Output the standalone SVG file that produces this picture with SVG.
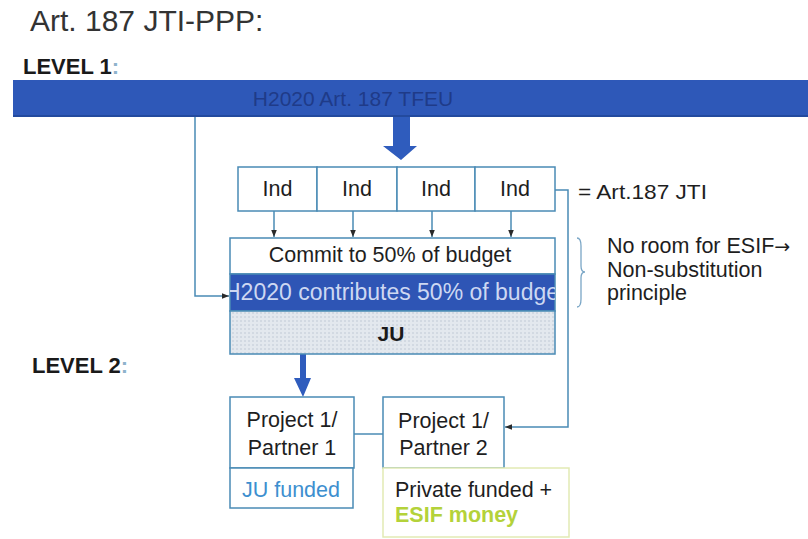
<svg xmlns="http://www.w3.org/2000/svg" width="808" height="539" viewBox="0 0 808 539">
<defs>
<style>
text{font-family:"Liberation Sans",Arial,sans-serif;}
.t{font-size:21.5px;fill:#1e1e1e;}
.lvl{font-size:22px;font-weight:bold;fill:#1a1a1a;}
.box{fill:#ffffff;stroke:#4a8bb5;stroke-width:1.5;}
.ln{fill:none;stroke:#4a8bb5;stroke-width:1.5;}
.big{fill:#2f5cbd;}
.c{text-anchor:middle;}
</style>
<pattern id="dots" width="4" height="4" patternUnits="userSpaceOnUse">
<rect width="4" height="4" fill="#e3e8ee"/>
<circle cx="1" cy="1" r="0.8" fill="#bcc7d4"/>
</pattern>
<marker id="ah" viewBox="0 0 10 10" refX="10" refY="5" markerWidth="7" markerHeight="7" markerUnits="userSpaceOnUse" orient="auto">
<path d="M0,1 L10,5 L0,9 Z" fill="#2a2a2a"/>
</marker>
<clipPath id="bandclip"><rect x="230" y="274" width="325" height="37"/></clipPath>
</defs>
<rect width="808" height="539" fill="#ffffff"/>

<g id="title"><text x="30" y="31" style="font-size:30px;fill:#333">Art. 187 JTI-PPP:</text></g>
<g id="level1"><text x="23" y="74" class="lvl">LEVEL 1<tspan fill="#8fb3cc">:</tspan></text></g>
<g id="level2"><text x="32" y="373" class="lvl">LEVEL 2<tspan fill="#8fb3cc">:</tspan></text></g>

<g id="h2020">
<rect x="13" y="80" width="800" height="37" fill="#2e58b8"/>
<rect x="13" y="115" width="800" height="2" fill="#234a9e"/>
<text x="353" y="106" class="c" style="font-size:21px;fill:#1f3b88">H2020 Art. 187 TFEU</text>
</g>

<g id="connectors">
<path class="ln" d="M195,117 V296 H229" marker-end="url(#ah)"/>
<path class="ln" d="M274,211 V237" marker-end="url(#ah)"/>
<path class="ln" d="M353,211 V237" marker-end="url(#ah)"/>
<path class="ln" d="M432,211 V237" marker-end="url(#ah)"/>
<path class="ln" d="M511,211 V237" marker-end="url(#ah)"/>
<path class="ln" d="M555,190 H568 V427 H505" marker-end="url(#ah)"/>
<path class="ln" d="M354,434 H383"/>
<path class="big" d="M393,117 H410 V146 H417 L401,160 L383,146 H393 Z"/>
<path class="big" d="M300,354 H306 V378 H311 L303,397 L294,378 H300 Z"/>
</g>

<g id="ind1"><rect class="box" x="238" y="167" width="79" height="44"/><text x="277.5" y="196" class="t c">Ind</text></g>
<g id="ind2"><rect class="box" x="317" y="167" width="80" height="44"/><text x="357" y="196" class="t c">Ind</text></g>
<g id="ind3"><rect class="box" x="397" y="167" width="78" height="44"/><text x="436" y="196" class="t c">Ind</text></g>
<g id="ind4"><rect class="box" x="475" y="167" width="80" height="44"/><text x="515" y="196" class="t c">Ind</text></g>

<g id="commit"><rect class="box" x="230" y="238" width="325" height="36"/><text x="390" y="262" class="t c">Commit to 50% of budget</text></g>
<g id="contrib">
<rect x="230" y="274" width="325" height="37" fill="#2e55b5" stroke="#4a8bb5" stroke-width="1.5"/>
<text x="224" y="300" clip-path="url(#bandclip)" style="font-size:23px;fill:#cdd8f2">H2020 contributes 50% of budget</text>
</g>
<g id="ju"><rect x="230" y="311" width="325" height="43" fill="url(#dots)" stroke="#4a8bb5" stroke-width="1.5"/><text x="391" y="341" class="c" style="font-size:21px;font-weight:bold;fill:#1a1a1a">JU</text></g>

<g id="art187"><text x="578" y="199" style="font-size:21px;fill:#1e1e1e" textLength="129" lengthAdjust="spacingAndGlyphs">= Art.187 JTI</text></g>
<g id="brace"><path d="M577,238 Q581,238 581,246 V266 Q581,272 585,272 Q581,272 581,278 V299 Q581,307 577,307" fill="none" stroke="#7aa6c6" stroke-width="1.3"/></g>
<g id="noroom">
<text x="607" y="253" class="t">No room for ESIF<tspan style="font-family:'DejaVu Sans',sans-serif;font-size:19px">→</tspan></text>
<text x="607" y="277" class="t">Non-substitution</text>
<text x="607" y="300" class="t">principle</text>
</g>

<g id="project1"><rect class="box" x="230" y="397" width="124" height="71"/><text x="292" y="427" class="t c">Project 1/</text><text x="292" y="455" class="t c">Partner 1</text></g>
<g id="jufunded"><rect class="box" x="230" y="468" width="123" height="40"/><text x="291" y="497" class="c" style="font-size:21.5px;fill:#3d8fcf">JU funded</text></g>
<g id="project2"><rect class="box" x="383" y="397" width="121" height="71"/><text x="443.5" y="428" class="t c">Project 1/</text><text x="443.5" y="455" class="t c">Partner 2</text></g>
<g id="private"><rect x="383" y="468" width="186" height="69" fill="#ffffff" stroke="#e2eab4" stroke-width="1.5"/><text x="395" y="497" class="t">Private funded +</text><text x="395" y="522" style="font-size:21.5px;font-weight:bold;fill:#b4d23a">ESIF money</text></g>
</svg>
